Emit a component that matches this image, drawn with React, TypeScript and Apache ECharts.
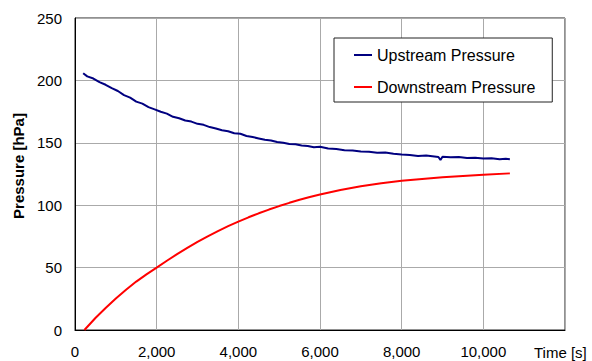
import React, { useEffect, useRef } from "react";
import * as echarts from "echarts";

const upTimes = [200, 300, 450, 600, 750, 900, 1050, 1200, 1350, 1500, 1650, 1800, 1950, 2100, 2250, 2400, 2550, 2700, 2850, 3000, 3150, 3300, 3450, 3600, 3750, 3900, 4050, 4200, 4350, 4500, 4650, 4800, 4950, 5100, 5250, 5400, 5550, 5700, 5850, 6000, 6200, 6400, 6600, 6800, 7000, 7200, 7400, 7600, 7800, 8000, 8200, 8400, 8600, 8800, 8900, 8950, 9000, 9200, 9400, 9600, 9800, 10000, 10200, 10400, 10550, 10650];
const upstream = [205.7, 203.2, 201.5, 198.6, 196.5, 193.8, 191.5, 188.2, 186.2, 183.0, 181.4, 178.6, 176.8, 174.9, 173.4, 170.8, 169.7, 167.9, 167.0, 165.2, 164.4, 162.6, 161.5, 160.1, 159.3, 157.7, 157.2, 155.5, 154.6, 153.5, 152.4, 151.8, 150.6, 150.1, 149.0, 148.8, 147.9, 147.4, 146.4, 146.8, 145.4, 145.0, 144.1, 143.8, 143.0, 142.9, 142.0, 142.3, 141.2, 140.7, 140.3, 139.5, 139.8, 139.0, 138.6, 136.2, 138.9, 138.4, 138.7, 137.9, 138.1, 137.4, 137.6, 136.9, 137.2, 136.8];

const downTimes = [230, 500, 750, 1000, 1250, 1500, 1750, 2000, 2250, 2500, 2750, 3000, 3250, 3500, 3750, 4000, 4250, 4500, 4750, 5000, 5250, 5500, 5750, 6000, 6500, 7000, 7500, 8000, 8500, 9000, 9500, 10000, 10650];
const downstream = [0, 9.6, 17.6, 25.3, 32.2, 38.8, 44.6, 50, 55.5, 60.8, 65.8, 70.6, 75.1, 79.3, 83.2, 86.9, 90.3, 93.5, 96.5, 99.3, 101.9, 104.3, 106.5, 108.5, 112.2, 115.2, 117.6, 119.5, 121, 122.3, 123.4, 124.4, 125.5];

const xTicks = { min: 0, max: 12000, interval: 2000 };
const yTicks = { min: 0, max: 250, interval: 50 };

const FONT = "'Liberation Sans', Arial, sans-serif";

export default function App() {
  const ref = useRef<HTMLDivElement>(null);
  useEffect(() => {
    if (!ref.current) return;
    const chart = echarts.init(ref.current, null, { renderer: "svg" });
    chart.setOption({
      animation: false,
      backgroundColor: "#fff",
      textStyle: { fontFamily: FONT },
      grid: {
        left: 75,
        right: 27,
        top: 18,
        bottom: 31,
        show: true,
        borderColor: "#222",
        borderWidth: 1,
        backgroundColor: "transparent",
      },
      legend: {
        orient: "vertical",
        left: 334,
        top: 38,
        width: 221,
        padding: [9, 17, 7, 20],
        itemGap: 16,
        itemWidth: 18,
        itemHeight: 2,
        icon: "rect",
        backgroundColor: "#fff",
        borderColor: "#222",
        borderWidth: 1,
        textStyle: { fontSize: 16, color: "#000", fontFamily: FONT, lineHeight: 16 },
        data: ["Upstream Pressure", "Downstream Pressure"],
      },
      xAxis: {
        type: "value",
        min: xTicks.min,
        max: xTicks.max,
        interval: xTicks.interval,
        axisLine: { show: true, onZero: false, lineStyle: { color: "#000", width: 1 } },
        axisTick: { show: false },
        splitLine: { show: true, lineStyle: { color: "#aaa", width: 1 } },
        axisLabel: {
          fontSize: 15,
          color: "#000",
          fontFamily: FONT,
          margin: 14,
          showMaxLabel: false,
          formatter: (v: number) => v.toLocaleString("en-US"),
        },
      },
      yAxis: {
        type: "value",
        min: yTicks.min,
        max: yTicks.max,
        interval: yTicks.interval,
        axisLine: { show: true, lineStyle: { color: "#000", width: 1 } },
        axisTick: { show: false },
        splitLine: { show: true, lineStyle: { color: "#aaa", width: 1 } },
        axisLabel: { fontSize: 15, color: "#000", fontFamily: FONT, margin: 13 },
      },
      graphic: [
        {
          type: "text",
          x: 534,
          y: 352,
          style: {
            text: "Time [s]",
            fontSize: 15,
            fontFamily: FONT,
            fill: "#000",
            textAlign: "left",
            textVerticalAlign: "middle",
          },
        },
        {
          type: "text",
          x: 18,
          y: 166,
          rotation: Math.PI / 2,
          style: {
            text: "Pressure [hPa]",
            fontSize: 15,
            fontWeight: "bold",
            fontFamily: FONT,
            fill: "#000",
            textAlign: "center",
            textVerticalAlign: "middle",
          },
        },
      ],
      series: [
        {
          name: "Upstream Pressure",
          type: "line",
          symbol: "none",
          data: upTimes.map((t, i) => [t, upstream[i]]),
          lineStyle: { color: "#000080", width: 2 },
          itemStyle: { color: "#000080" },
        },
        {
          name: "Downstream Pressure",
          type: "line",
          symbol: "none",
          data: downTimes.map((t, i) => [t, downstream[i]]),
          lineStyle: { color: "#ff0000", width: 2 },
          itemStyle: { color: "#ff0000" },
        },
      ],
    });
    return () => chart.dispose();
  }, []);
  return <div ref={ref} style={{ width: 592, height: 361, position: "absolute", left: 0, top: 0 }} />;
}
